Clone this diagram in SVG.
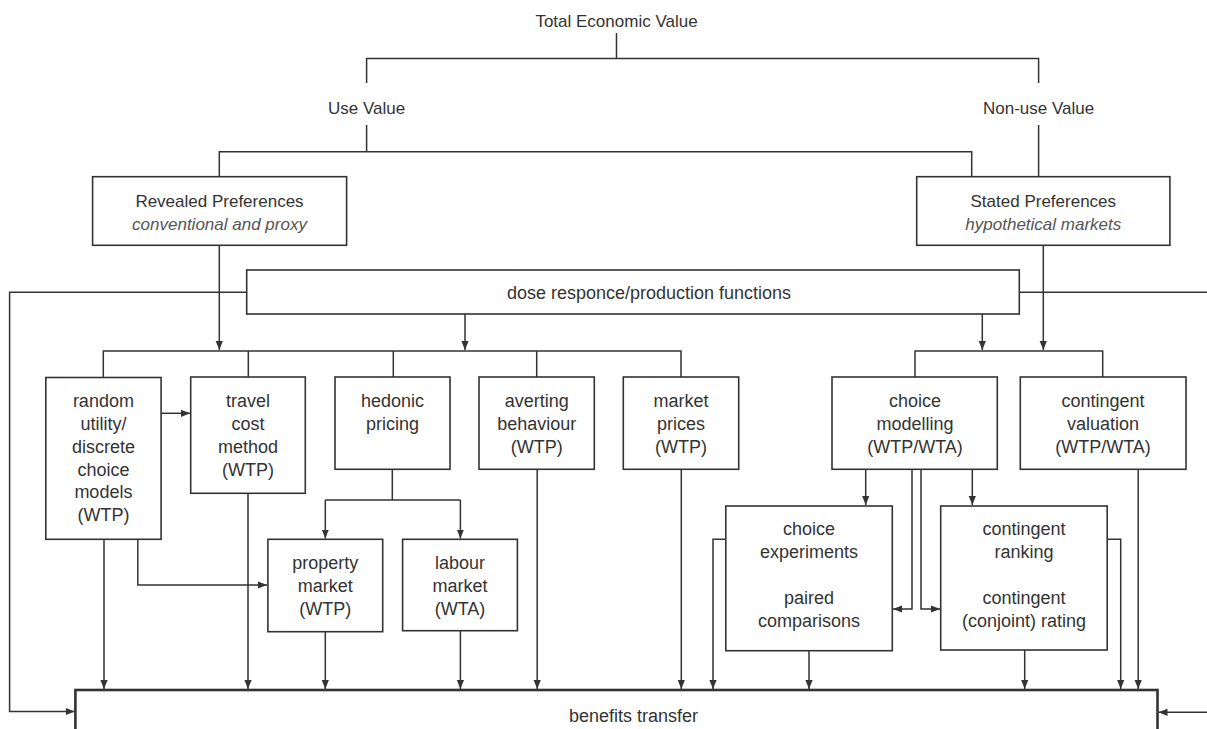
<svg xmlns="http://www.w3.org/2000/svg" width="1207" height="729" viewBox="0 0 1207 729">
<style>
text{font-family:"Liberation Sans",Arial,sans-serif;fill:#333;text-anchor:middle}
.h{font-size:17px}
.b{font-size:18px}
.i{font-size:17px;font-style:italic;fill:#555}
rect{fill:#fff;stroke:#333;stroke-width:1.6}
.c path,.c line{fill:none;stroke:#333;stroke-width:1.5}
.bt{stroke-width:2.6}
</style>
<defs>
<marker id="a" viewBox="0 0 10 8" markerUnits="userSpaceOnUse" markerWidth="9" markerHeight="8" refX="10" refY="4" orient="auto"><path d="M0,0 L10,4 L0,8 z" fill="#333"/></marker>
</defs>
<g class="c" id="connectors">
<path d="M616.5,33 V58.5 M366.6,83 V58.5 H1038.6 V83"/>
<path d="M366.6,125 V151.7 M219.3,176.7 V151.7 H971.7 V176.7 M1038.6,125 V176.7"/>
<path d="M219.3,245.3 V350" marker-end="url(#a)"/>
<path d="M1043.3,245.3 V350" marker-end="url(#a)"/>
<path d="M465,314 V350" marker-end="url(#a)"/>
<path d="M982.3,314 V350" marker-end="url(#a)"/>
<path d="M103.3,377.5 V351 H681 V377 M248.3,351 V377 M393.3,351 V377 M536.7,351 V377"/>
<path d="M915,377 V351 H1102.7 V377"/>
<path d="M246.7,292.3 H9.6 V711.5 H74.5" marker-end="url(#a)"/>
<path d="M1019.3,292.3 H1210"/>
<path d="M1210,712.3 H1158.5" marker-end="url(#a)"/>
<path d="M161,413.3 H190" marker-end="url(#a)"/>
<path d="M137.8,539.3 V585 H267" marker-end="url(#a)"/>
<path d="M104,539.3 V689" marker-end="url(#a)"/>
<path d="M248,493.3 V689" marker-end="url(#a)"/>
<path d="M392.3,469.3 V500 M325.3,500 H460.4"/>
<path d="M325.3,500 V538.5" marker-end="url(#a)"/>
<path d="M460.4,500 V538.5" marker-end="url(#a)"/>
<path d="M325.3,631.7 V689" marker-end="url(#a)"/>
<path d="M460.4,630.7 V689" marker-end="url(#a)"/>
<path d="M537.2,469.3 V689" marker-end="url(#a)"/>
<path d="M681.3,469.3 V689" marker-end="url(#a)"/>
<path d="M865.7,469.3 V505" marker-end="url(#a)"/>
<path d="M972.3,469.3 V505" marker-end="url(#a)"/>
<path d="M912,469.3 V609 H893" marker-end="url(#a)"/>
<path d="M921,469.3 V609 H940" marker-end="url(#a)"/>
<path d="M725.8,539.3 H713 V689" marker-end="url(#a)"/>
<path d="M809,650.7 V689" marker-end="url(#a)"/>
<path d="M1024.7,650 V689" marker-end="url(#a)"/>
<path d="M1107.2,539.3 H1120.7 V689" marker-end="url(#a)"/>
<path d="M1138.2,469.3 V689" marker-end="url(#a)"/>
</g>
<g id="tev"><text class="h" x="616.5" y="27">Total Economic Value</text></g>
<g id="use"><text class="h" x="366.6" y="114">Use Value</text></g>
<g id="nonuse"><text class="h" x="1038.6" y="114">Non-use Value</text></g>
<g id="rp"><rect x="92.6" y="176.7" width="254" height="68.6"/><text class="h" x="219.5" y="207">Revealed Preferences</text><text class="i" x="219.5" y="230">conventional and proxy</text></g>
<g id="sp"><rect x="916.7" y="176.7" width="253.2" height="68.6"/><text class="h" x="1043.3" y="207">Stated Preferences</text><text class="i" x="1043.3" y="230">hypothetical markets</text></g>
<g id="dose"><rect x="246.7" y="270" width="772.6" height="44"/><text class="b" x="649" y="299">dose responce/production functions</text></g>
<g id="ru"><rect x="45.8" y="377.5" width="115.3" height="161.8"/><text class="b" x="103.4" y="406.7">random</text><text class="b" x="103.4" y="429.7">utility/</text><text class="b" x="103.4" y="452.7">discrete</text><text class="b" x="103.4" y="475.5">choice</text><text class="b" x="103.4" y="498.3">models</text><text class="b" x="103.4" y="521">(WTP)</text></g>
<g id="tc"><rect x="190.7" y="377" width="114.6" height="116.3"/><text class="b" x="248" y="406.7">travel</text><text class="b" x="248" y="429.7">cost</text><text class="b" x="248" y="452.7">method</text><text class="b" x="248" y="475.5">(WTP)</text></g>
<g id="hp"><rect x="335" y="377" width="115" height="92.3"/><text class="b" x="392.5" y="406.7">hedonic</text><text class="b" x="392.5" y="429.7">pricing</text></g>
<g id="ab"><rect x="479" y="377" width="115.3" height="92.3"/><text class="b" x="536.7" y="406.7">averting</text><text class="b" x="536.7" y="429.7">behaviour</text><text class="b" x="536.7" y="452.7">(WTP)</text></g>
<g id="mp"><rect x="623.3" y="377" width="115.4" height="92.3"/><text class="b" x="681" y="406.7">market</text><text class="b" x="681" y="429.7">prices</text><text class="b" x="681" y="452.7">(WTP)</text></g>
<g id="cm"><rect x="832" y="377" width="165.3" height="92.3"/><text class="b" x="915" y="406.7">choice</text><text class="b" x="915" y="429.7">modelling</text><text class="b" x="915" y="452.7">(WTP/WTA)</text></g>
<g id="cv"><rect x="1020.3" y="377" width="165.7" height="92.3"/><text class="b" x="1103" y="406.7">contingent</text><text class="b" x="1103" y="429.7">valuation</text><text class="b" x="1103" y="452.7">(WTP/WTA)</text></g>
<g id="pm"><rect x="267.9" y="539.3" width="114.8" height="92.4"/><text class="b" x="325.3" y="569">property</text><text class="b" x="325.3" y="592">market</text><text class="b" x="325.3" y="615">(WTP)</text></g>
<g id="lm"><rect x="402.6" y="539.3" width="114.8" height="91.4"/><text class="b" x="460" y="569">labour</text><text class="b" x="460" y="592">market</text><text class="b" x="460" y="615">(WTA)</text></g>
<g id="ce"><rect x="725.8" y="506" width="166.5" height="144.7"/><text class="b" x="809" y="535">choice</text><text class="b" x="809" y="558.3">experiments</text><text class="b" x="809" y="604">paired</text><text class="b" x="809" y="626.7">comparisons</text></g>
<g id="cr"><rect x="940.7" y="506" width="166.5" height="144"/><text class="b" x="1024" y="535">contingent</text><text class="b" x="1024" y="558.3">ranking</text><text class="b" x="1024" y="604">contingent</text><text class="b" x="1024" y="626.7">(conjoint) rating</text></g>
<g id="bt"><rect class="bt" x="75.4" y="690" width="1082.1" height="60"/><text class="b" x="633.5" y="722">benefits transfer</text></g>
</svg>
